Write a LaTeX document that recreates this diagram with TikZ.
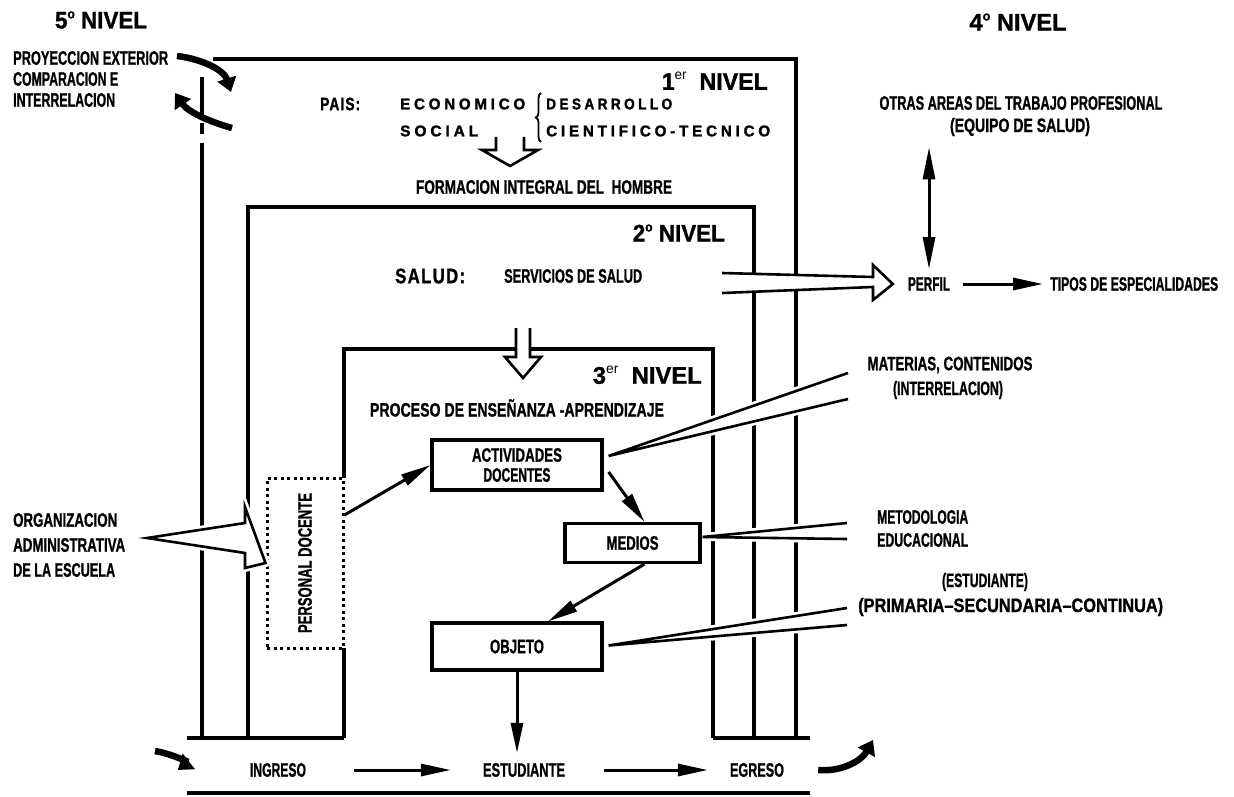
\documentclass[tikz,border=0pt]{standalone}
\usepackage{fontspec}
\setmainfont{Liberation Sans}[BoldFeatures={FakeBold=1.2}]
\newfontfamily\spfont{Liberation Sans}[LetterSpace=25, BoldFeatures={FakeBold=1.6}]
\newfontfamily\spfontb{Liberation Sans}[LetterSpace=8, BoldFeatures={FakeBold=1.4}]
\usepackage{graphicx}
\usetikzlibrary{arrows.meta,decorations.pathreplacing}
\newcommand\fw[2]{\resizebox{#1pt}{\height}{#2}}
\newcommand\supo{\raisebox{0.42em}{\fontsize{13}{13}\selectfont o}}
\newcommand\supr[1]{\raisebox{0.42em}{\fontsize{14}{14}\selectfont\mdseries #1}}
\begin{document}
\begin{tikzpicture}[x=1pt,y=-1pt,
  fr/.style={line width=3.4pt},
  tb/.style={font=\bfseries\fontsize{19.5}{19.5}\selectfont, inner sep=0pt},
  tbig/.style={font=\bfseries\fontsize{19.5}{19.5}\selectfont, inner sep=0pt, anchor=west},
  tt/.style={font=\bfseries\fontsize{24}{24}\selectfont, inner sep=0pt},
  tsp/.style={font=\spfont\bfseries\fontsize{15.5}{15.5}\selectfont, inner sep=0pt, anchor=west},
  tspb/.style={font=\spfontb\bfseries\fontsize{18}{18}\selectfont, inner sep=0pt, anchor=west},
  bx/.style={draw, line width=3.2pt, inner sep=0pt, align=center, font=\bfseries\fontsize{19.5}{20}\selectfont},
  dotbox/.style={draw, line width=3pt, dash pattern=on 3pt off 3.5pt, inner sep=0pt},
  arr/.style={line width=3pt, -{Triangle[length=30pt,width=12pt]}},
  darr/.style={line width=3pt, {Triangle[length=32pt,width=12pt]}-{Triangle[length=32pt,width=12pt]}},
  hol/.style={line width=2.6pt, line join=miter},
  halo/.style={white, line width=8pt},
  wl/.style={line width=2.6pt},
  curv/.style={line width=6.5pt, -{Triangle[length=14pt,width=19pt]}}
]
\useasboundingbox (0,0) rectangle (1234,797);
\fill[white] (0,0) rectangle (1234,797);

% ---------- frames ----------
\draw[fr] (213,59) -- (796,59) -- (796,738);
\draw[fr] (202,77) -- (202,117);
\draw[fr] (202,123) -- (202,134);
\draw[fr] (202,143) -- (202,738);
\draw[fr] (248,738) -- (248,207) -- (754,207) -- (754,738);
\draw[fr] (344,478) -- (344,349) -- (713,349) -- (713,738);
\draw[fr] (344,648) -- (344,738);
\draw[fr] (187,738) -- (344,738);
\draw[fr] (713,738) -- (810,738);
\draw[fr] (187,793) -- (810,793);

% ---------- titles ----------
\node[tt] (n5) at (101,20) {\fw{92}{5\supo\ NIVEL}};
\node[tt] (n4) at (1018,22) {\fw{97}{4\supo\ NIVEL}};
\node[tt, anchor=east] (n1) at (768,81) {\fw{106}{1\supr{er}\ \ NIVEL}};
\node[tt, anchor=east] (n2) at (725,233) {\fw{92}{2\supo\ NIVEL}};
\node[tt, anchor=east] (n3) at (702,375) {\fw{109}{3\supr{er}\ \ NIVEL}};

% ---------- 5th level text ----------
\node[tbig] (p1) at (13,58) {\fw{155}{PROYECCION EXTERIOR}};
\node[tbig] (p2) at (13,79) {\fw{105}{COMPARACION E}};
\node[tbig] (p3) at (13,100) {\fw{102}{INTERRELACION}};

% ---------- 1st level ----------
\node[tspb] (pais) at (320,104) {\fw{40}{PAIS:}};
\node[tsp] (econ) at (400,104) {\fw{125}{ECONOMICO}};
\node[tsp] (soc) at (400,131) {\fw{78}{SOCIAL}};
\node[tsp] (desa) at (546,104) {\fw{126}{DESARROLLO}};
\node[tsp] (cien) at (546,131) {\fw{224}{CIENTIFICO-TECNICO}};
\draw[line width=1.8pt, decorate, decoration={brace, amplitude=5pt}] (541,142) -- (541,93);
\node[tb] (form) at (544,187) {\fw{256}{FORMACION INTEGRAL DEL\ \ HOMBRE}};

% hollow arrow pais -> formacion
\fill[white] (496,137) -- (496,150) -- (482,150) -- (510,166) -- (538,150) -- (524,150) -- (524,137) -- cycle;
\draw[hol] (496,137) -- (496,150) -- (482,150) -- (510,166) -- (538,150) -- (524,150) -- (524,137);

% ---------- 2nd level ----------
\node[tspb, font=\spfontb\bfseries\fontsize{21}{21}\selectfont] (salud) at (395,276) {\fw{70}{SALUD:}};
\node[tb, anchor=west] (serv) at (504,276) {\fw{138}{SERVICIOS DE SALUD}};

% hollow arrow 2 -> 3
\fill[white] (516,328) -- (516,357) -- (505,357) -- (523,378) -- (541,357) -- (530,357) -- (530,328) -- cycle;
\draw[hol] (516,328) -- (516,357) -- (505,357) -- (523,378) -- (541,357) -- (530,357) -- (530,328);

% ---------- 4th level ----------
\node[tb] (otras) at (1021,103) {\fw{283}{OTRAS AREAS DEL TRABAJO PROFESIONAL}};
\node[tb] (equipo) at (1020,127) {\fw{140}{(EQUIPO DE SALUD)}};
\node[tb] (perfil) at (929,284) {\fw{42}{PERFIL}};
\node[tb, anchor=west] (tipos) at (1050,284) {\fw{168}{TIPOS DE ESPECIALIDADES}};
\coordinate (dtop) at ([yshift=-11pt]equipo.south -| perfil.north);
\draw[darr] (dtop) -- ([yshift=8pt]perfil.north);
\draw[arr] ([xshift=13pt]perfil.east) -- ([xshift=-7pt]tipos.west);

% hollow arrow salud -> perfil
\coordinate (s1) at (722,273);
\coordinate (s2) at (873,277);
\coordinate (s3) at (873,265);
\coordinate (stip) at ([xshift=-15pt]perfil.west);
\coordinate (s5) at (873,300);
\coordinate (s6) at (873,287);
\coordinate (s7) at (722,293);
\fill[white] (s1) -- (s2) -- (s3) -- (stip) -- (s5) -- (s6) -- (s7) -- cycle;
\draw[hol] (s1) -- (s2) -- (s3) -- (stip) -- (s5) -- (s6) -- (s7);

% ---------- 3rd level ----------
\node[tb] (proc) at (517,408) {\fw{294}{PROCESO DE ENSEÑANZA -APRENDIZAJE}};
\node[bx, minimum width=170pt, minimum height=50pt] (act) at (517,465) {\fw{90}{ACTIVIDADES}\\\fw{67}{DOCENTES}};
\node[bx, minimum width=135pt, minimum height=39pt] (med) at (632.5,543) {\fw{52}{MEDIOS}};
\node[bx, minimum width=170pt, minimum height=47pt] (obj) at (517,646.5) {\fw{54}{OBJETO}};
\node[dotbox, minimum width=76pt, minimum height=170pt] (pd) at (305,563) {};
\node[tb, rotate=90] (pdt) at (pd.center) {\fw{140}{PERSONAL DOCENTE}};

% organizacion
\node[tbig] (o1) at (13,520) {\fw{104}{ORGANIZACION}};
\node[tbig] (o2) at (13,545) {\fw{112}{ADMINISTRATIVA}};
\node[tbig] (o3) at (13,570) {\fw{102}{DE LA ESCUELA}};
\coordinate (a0) at (147,538);
\coordinate (a1) at (245,523);
\coordinate (a2) at (245,507);
\coordinate (atip) at (pd.west);
\coordinate (a4) at (245,568);
\coordinate (a5) at (245,553);
\draw[halo] (a0) -- (a1) -- (a2) -- (atip) -- (a4) -- (a5) -- cycle;
\fill[white] (a0) -- (a1) -- (a2) -- (atip) -- (a4) -- (a5) -- cycle;
\draw[hol] (a0) -- (a1) -- (a2) -- (atip) -- (a4) -- (a5) -- cycle;

% right side labels
\node[tb] (mat) at (950,365) {\fw{165}{MATERIAS, CONTENIDOS}};
\node[tb] (inter) at (948,390) {\fw{110}{(INTERRELACION)}};
\node[tb, anchor=west] (met) at (877,517) {\fw{91}{METODOLOGIA}};
\node[tb, anchor=west] (edu) at (877,540) {\fw{91}{EDUCACIONAL}};
\node[tb] (est2) at (985,582) {\fw{86}{(ESTUDIANTE)}};
\node[tb, anchor=west] (prim) at (858,607) {\fw{305}{(PRIMARIA--SECUNDARIA--CONTINUA)}};

% wedges
\coordinate (w1t) at ([xshift=5pt,yshift=9pt]act.east);
\coordinate (w1a) at (848,373);
\coordinate (w1b) at (848,399);
\coordinate (w2t) at ([xshift=1pt,yshift=6pt]med.east);
\coordinate (w2a) at (847,523);
\coordinate (w2b) at (847,539);
\coordinate (w3t) at ([xshift=5pt,yshift=1pt]obj.east);
\coordinate (w3a) at (847,608);
\coordinate (w3b) at (847,625);
\foreach \t/\a/\b in {w1t/w1a/w1b, w2t/w2a/w2b, w3t/w3a/w3b}{
  \draw[halo] (\a) -- (\t) -- (\b);
  \fill[white] (\a) -- (\t) -- (\b) -- cycle;
  \draw[wl] (\a) -- (\t) -- (\b);
}

% process arrows
\draw[arr] ([yshift=48pt]pd.east) -- (act.west);
\draw[arr] ([xshift=5pt,yshift=-7pt]act.east) -- ([xshift=12pt]med.north);
\draw[arr] ([xshift=12pt]med.south) -- ([xshift=31pt]obj.north);

% ---------- bottom ----------
\node[tb] (ing) at (278,770) {\fw{56}{INGRESO}};
\node[tb] (estud) at (524,770) {\fw{82}{ESTUDIANTE}};
\node[tb] (egr) at (757,770) {\fw{54}{EGRESO}};
\draw[arr] (obj.south) -- ([yshift=10pt]estud.north -| obj.south);
\draw[arr] ([xshift=48pt]ing.east) -- ([xshift=-32pt]estud.west);
\draw[arr] ([xshift=39pt]estud.east) -- ([xshift=-22pt]egr.west);

% curved thick arrows
\coordinate (c1s) at (177,56);
\coordinate (c1e) at (231,92);
\draw[curv] (c1s) .. controls (202,59) and (224,70) .. (c1e);
\coordinate (c2s) at (232,128);
\coordinate (c2e) at (175,93);
\draw[curv] (c2s) .. controls (210,122) and (188,112) .. (c2e);
\coordinate (c3s) at (155,751);
\coordinate (c3e) at ([xshift=-72pt]ing.west);
\draw[curv] (c3s) .. controls (172,754) and (188,762) .. (c3e);
\coordinate (c4s) at ([xshift=34pt]egr.east);
\coordinate (c4e) at (873,740);
\draw[curv] (c4s) .. controls (843,772) and (862,760) .. (c4e);
\end{tikzpicture}
\end{document}
